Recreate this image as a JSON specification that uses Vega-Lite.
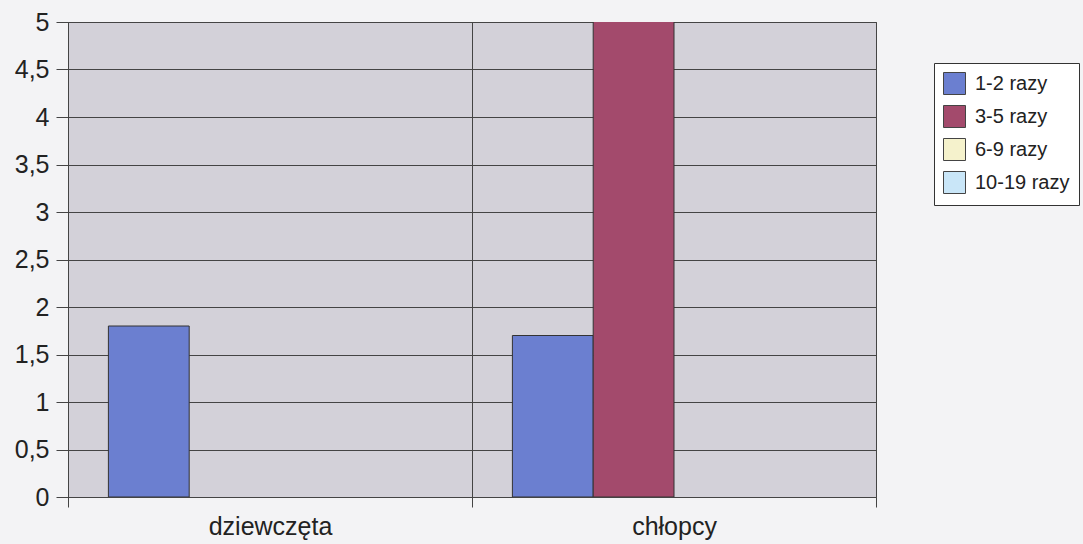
{
  "$schema": "https://vega.github.io/schema/vega-lite/v6.json",
  "autosize": {"type": "none"},
  "width": 808,
  "height": 475,
  "padding": {"left": 68, "top": 22, "right": 207, "bottom": 47},
  "background": "#f3f3f5",
  "config": {
    "view": {"fill": "#d3d1d9", "stroke": "#555555", "strokeWidth": 1},
    "font": "Liberation Sans"
  },
  "data": {
    "values": [
      {"grupa": "dziewczęta", "czestosc": "1-2 razy", "wartosc": 1.8},
      {"grupa": "chłopcy", "czestosc": "1-2 razy", "wartosc": 1.7},
      {"grupa": "chłopcy", "czestosc": "3-5 razy", "wartosc": 5.3}
    ]
  },
  "mark": {"type": "bar", "stroke": "#333333", "strokeWidth": 1, "clip": true},
  "encoding": {
    "x": {
      "field": "grupa",
      "type": "nominal",
      "sort": ["dziewczęta", "chłopcy"],
      "scale": {"paddingInner": 0, "paddingOuter": 0},
      "axis": {
        "title": null,
        "labelAngle": 0,
        "labelFontSize": 25,
        "labelColor": "#222222",
        "labelPadding": 7,
        "tickBand": "extent",
        "tickSize": 10,
        "tickColor": "#444444",
        "grid": true,
        "gridColor": "#444444",
        "gridOpacity": 1,
        "domain": false
      }
    },
    "xOffset": {
      "field": "czestosc",
      "type": "nominal",
      "scale": {"domain": ["1-2 razy", "3-5 razy", "6-9 razy", "10-19 razy"], "paddingInner": 0, "paddingOuter": 0.5}
    },
    "y": {
      "field": "wartosc",
      "type": "quantitative",
      "scale": {"domain": [0, 5], "nice": false},
      "axis": {
        "title": null,
        "values": [0, 0.5, 1, 1.5, 2, 2.5, 3, 3.5, 4, 4.5, 5],
        "labelExpr": "replace(toString(datum.value), '.', ',')",
        "labelFontSize": 25,
        "labelColor": "#222222",
        "labelPadding": 7,
        "tickSize": 12,
        "tickColor": "#444444",
        "grid": true,
        "gridColor": "#444444",
        "gridOpacity": 1,
        "domain": true,
        "domainColor": "#444444"
      }
    },
    "color": {
      "field": "czestosc",
      "type": "nominal",
      "scale": {
        "domain": ["1-2 razy", "3-5 razy", "6-9 razy", "10-19 razy"],
        "range": ["#6b7fd0", "#a34a6c", "#f5f2cc", "#c9e6f8"]
      },
      "legend": {
        "title": null,
        "orient": "none",
        "legendX": 866,
        "legendY": 41,
        "fillColor": "#ffffff",
        "strokeColor": "#333333",
        "padding": 9,
        "symbolType": "square",
        "symbolSize": 484,
        "symbolStrokeColor": "#444444",
        "symbolStrokeWidth": 1,
        "symbolOpacity": 1,
        "labelFontSize": 20,
        "labelColor": "#222222",
        "labelOffset": 9,
        "rowPadding": 6
      }
    }
  }
}
